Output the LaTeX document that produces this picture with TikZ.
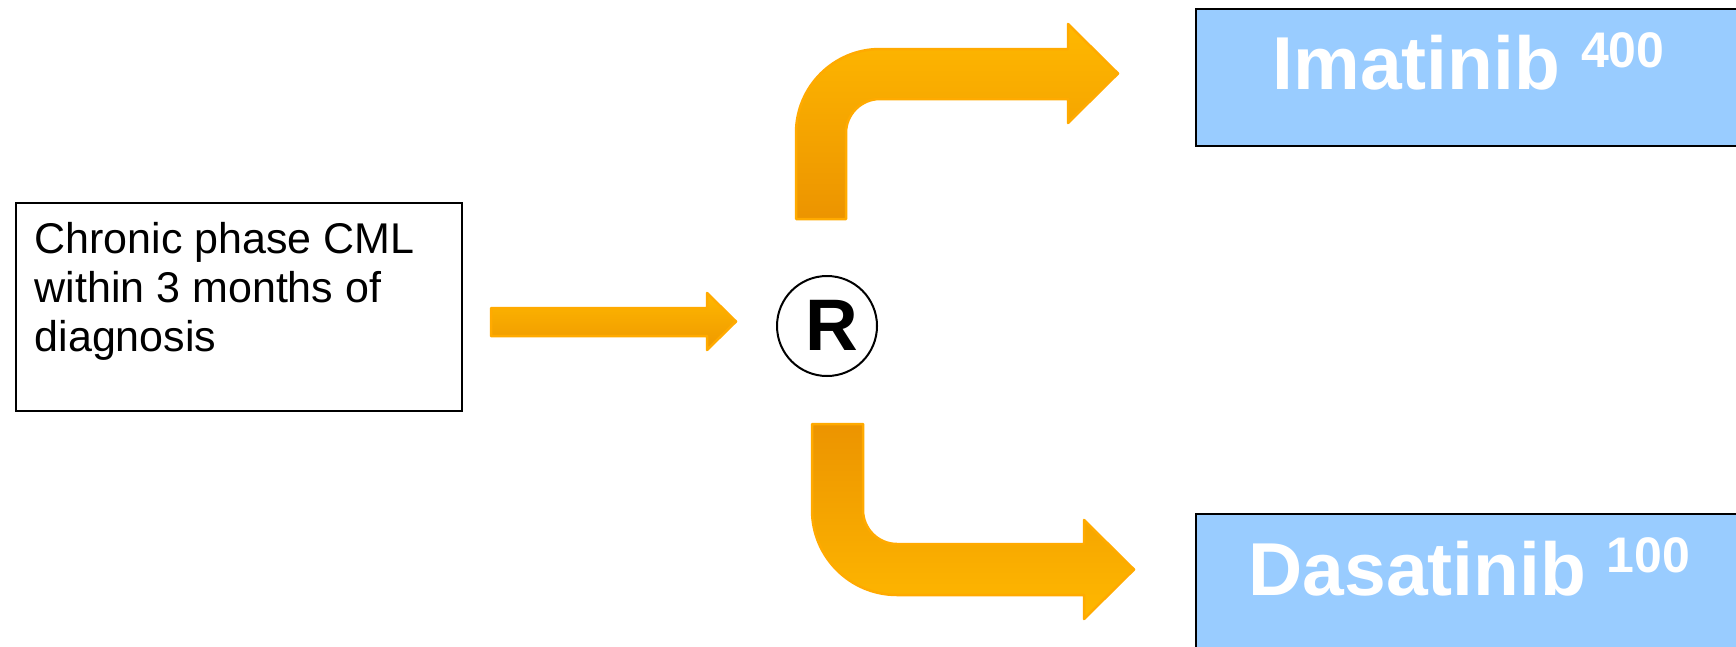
\documentclass[tikz,border=0pt]{standalone}
\usepackage{fontspec}
\setmainfont{Liberation Sans}
\definecolor{arrowlight}{HTML}{FFB800}
\definecolor{arrowdark}{HTML}{EC9400}
\definecolor{arrowedge}{HTML}{FFAA00}
\definecolor{armblue}{HTML}{99CCFF}
\newcommand{\dosesup}[2]{\raisebox{#1}{\fontsize{50}{50}\selectfont #2}}
\begin{document}
\begin{tikzpicture}[x=1pt,y=-1pt,
  fatarrow/.style={draw=arrowedge, line width=2.5pt, line join=round},
  framebox/.style={draw=black, line width=2pt, inner sep=0pt, anchor=north west},
  armbox/.style={framebox, fill=armblue},
  armlabel/.style={anchor=base west, inner sep=0pt, text=white,
    font=\fontsize{75}{75}\bfseries\selectfont},
  bodytext/.style={anchor=north west, inner sep=0pt, align=left,
    font=\fontsize{43}{49.2}\selectfont}]
\useasboundingbox (0,0) rectangle (1736,646);
\clip (0,0) rectangle (1736,646);

% entry box
\node[framebox, minimum width=446pt, minimum height=208pt] (start) at (15,202) {};
\node[bodytext] (starttext) at (34.5,222)
  {Chronic phase CML\\within 3 months of\\diagnosis};

% randomisation mark
\node[draw=black, line width=2pt, circle, minimum size=100pt, inner sep=0pt] (rand) at (827,326) {};
\node[anchor=base, inner sep=0pt, font=\fontsize{73}{73}\bfseries\selectfont] (randlabel) at (832,350) {R};

% straight arrow into the randomisation
\path[fatarrow, top color=arrowlight, bottom color=arrowdark!90!arrowlight]
  (491,308) -- (707,308) -- (707,293) -- (736,321.5) -- (707,350) -- (707,336)
  -- (491,336) -- cycle;

% upper branch
\path[fatarrow, top color=arrowlight, bottom color=arrowdark]
  (796,219) -- (796,133) arc[start angle=180, end angle=270, radius=84]
  -- (1068,49) -- (1068,24) -- (1118,73.5) -- (1068,123) -- (1068,99)
  -- (880,99) arc[start angle=270, end angle=180, radius=34]
  -- (846,219) -- cycle;

% lower branch
\path[fatarrow, top color=arrowdark, bottom color=arrowlight]
  (812,424) -- (812,510) arc[start angle=180, end angle=90, radius=85]
  -- (1084,595) -- (1084,619) -- (1134,569.5) -- (1084,520) -- (1084,544)
  -- (897,544) arc[start angle=90, end angle=180, radius=34]
  -- (863,424) -- cycle;

% treatment arms
\node[armbox, minimum width=560pt, minimum height=137pt] (ima) at (1195,7.5) {};
\node[armlabel] (imalabel) at (1272.5,89.3) {Imatinib \dosesup{22pt}{400}};

\node[armbox, minimum width=560pt, minimum height=180pt] (dasa) at (1195,513) {};
\node[armlabel] (dasalabel) at (1248.3,595.7) {Dasatinib \dosesup{23pt}{100}};
\end{tikzpicture}
\end{document}
